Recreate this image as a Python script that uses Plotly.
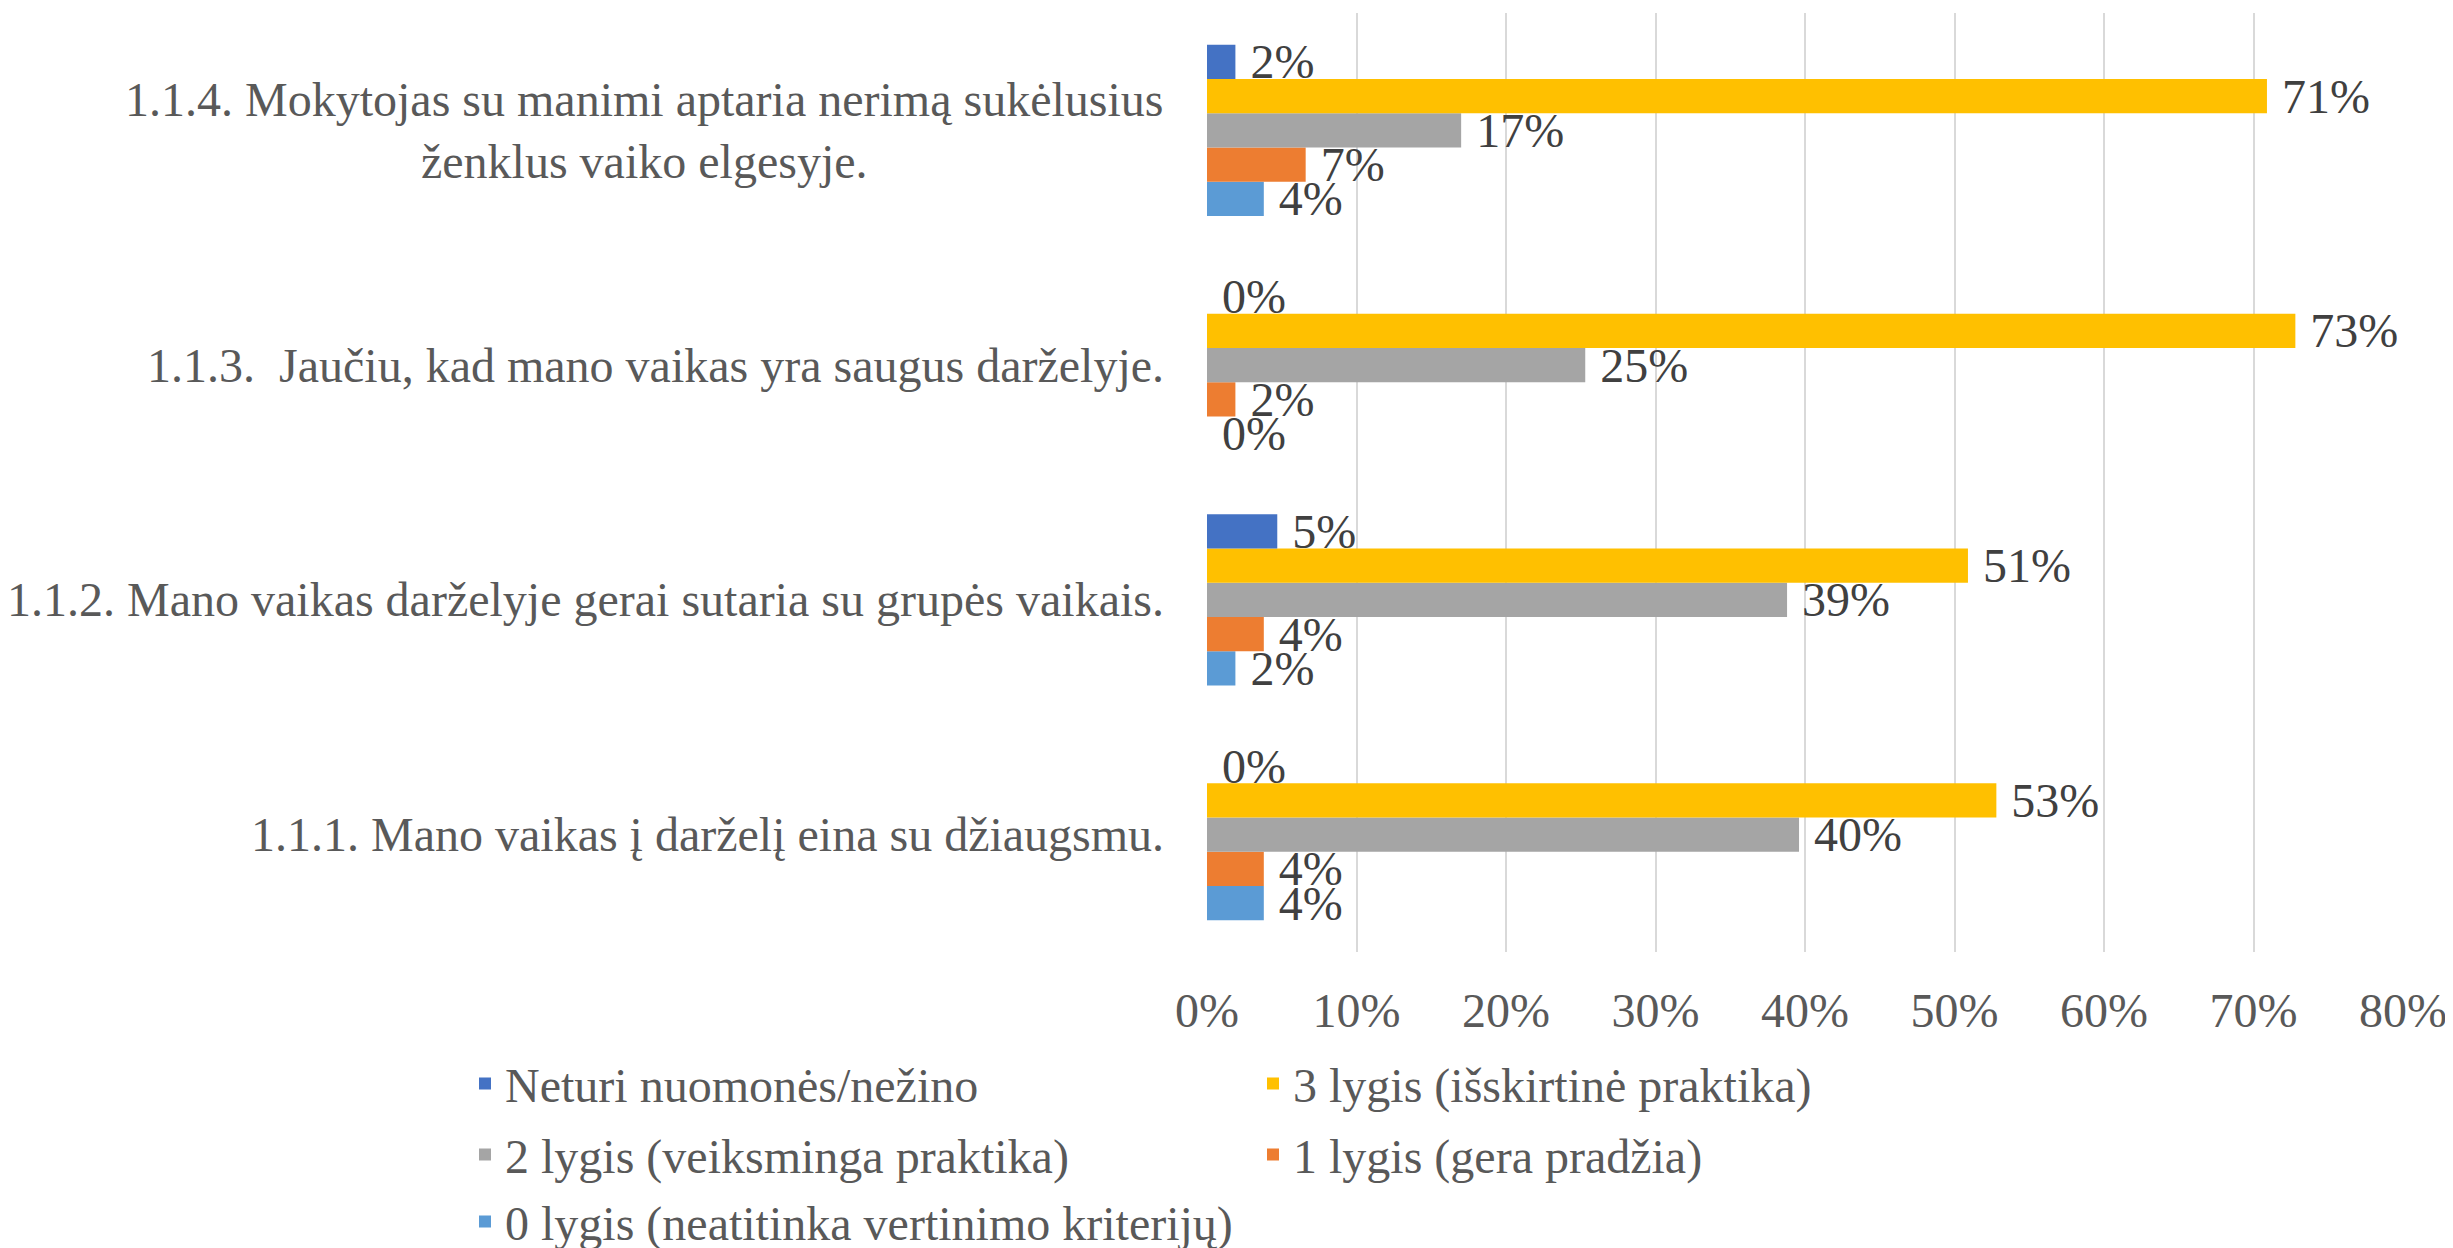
import plotly.graph_objects as go

categories = [
    "1.1.1. Mano vaikas į darželį eina su džiaugsmu.",
    "1.1.2. Mano vaikas darželyje gerai sutaria su grupės vaikais.",
    "1.1.3.  Jaučiu, kad mano vaikas yra saugus darželyje.",
    "1.1.4. Mokytojas su manimi aptaria nerimą sukėlusius<br>ženklus vaiko elgesyje.",
]
series_names = [
    "0 lygis (neatitinka vertinimo kriterijų)",
    "1 lygis (gera pradžia)",
    "2 lygis (veiksminga praktika)",
    "3 lygis (išskirtinė praktika)",
    "Neturi nuomonės/nežino",
]
lvl0 = [0.038, 0.019, 0.0, 0.038]
lvl1 = [0.038, 0.038, 0.019, 0.066]
lvl2 = [0.396, 0.388, 0.253, 0.170]
lvl3 = [0.528, 0.509, 0.728, 0.709]
neturi = [0.0, 0.047, 0.0, 0.019]
values = [lvl0, lvl1, lvl2, lvl3, neturi]
colors = ["#5B9BD5", "#ED7D31", "#A5A5A5", "#FFC000", "#4472C4"]
legend_of = ["legend3", "legend2", "legend2", "legend", "legend"]
x_ticks = [0, 0.1, 0.2, 0.3, 0.4, 0.5, 0.6, 0.7, 0.8]

FONT = "Liberation Serif, Times New Roman, serif"
FS = 48

fig = go.Figure()
for name, vals, col, lg in zip(series_names, values, colors, legend_of):
    fig.add_trace(go.Bar(
        y=categories, x=vals, orientation="h", name=name,
        marker=dict(color=col, line=dict(width=0)),
        texttemplate="\u00a0%{x:.0%}", textposition="outside",
        textfont=dict(family=FONT, size=FS, color="#404040"),
        constraintext="none", cliponaxis=False, legend=lg,
    ))

# page has an 8px body margin
W, H = 2437, 1240
ML, MR = 1199, 42
PW = W - ML - MR
fig.update_layout(
    width=W, height=H,
    paper_bgcolor="white", plot_bgcolor="white",
    margin=dict(l=ML, r=MR, t=5, b=296, autoexpand=False),
    barmode="group", bargap=0.27, bargroupgap=0,
    font=dict(family=FONT, size=FS, color="#595959"),
    showlegend=True,
    xaxis=dict(
        range=[0, 0.8], tickvals=x_ticks, tickformat=".0%",
        showgrid=True, gridcolor="#D9D9D9", gridwidth=2,
        zeroline=False, showline=False,
        ticks="outside", ticklen=16, tickcolor="rgba(0,0,0,0)",
        ticklabeloverflow="allow",
        tickfont=dict(family=FONT, size=FS, color="#595959"),
        fixedrange=True,
    ),
    yaxis=dict(showticklabels=False, showgrid=False, zeroline=False, showline=False,
               categoryorder="array", categoryarray=categories, fixedrange=True),
)

LX = (457 - ML) / PW
legend_common = dict(
    orientation="h", xref="paper", yref="paper",
    xanchor="left", yanchor="middle",
    font=dict(family=FONT, size=FS, color="#595959"),
    bgcolor="rgba(0,0,0,0)", borderwidth=0,
    entrywidth=743, entrywidthmode="pixels", traceorder="reversed",
    itemclick=False, itemdoubleclick=False,
)
fig.update_layout(
    legend=dict(legend_common, x=LX, y=-0.1404),
    legend2=dict(legend_common, x=LX, y=-0.2160),
    legend3=dict(legend_common, x=LX, y=-0.2872),
)

for cat in categories:
    fig.add_annotation(
        x=0, xref="paper", y=cat, yref="y", xanchor="right", yanchor="middle",
        xshift=-41, text=cat, showarrow=False, align="center",
        font=dict(family=FONT, size=FS, color="#595959"),
    )

fig.write_html("out.html")
